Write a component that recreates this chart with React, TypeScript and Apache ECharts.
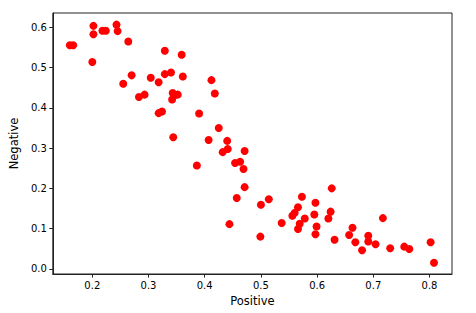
import React, { useEffect, useRef } from "react";
import * as echarts from "echarts";

const positive = [
  0.160, 0.166, 0.202, 0.202, 0.200, 0.218, 0.224, 0.243, 0.245, 0.264,
  0.255, 0.270, 0.283, 0.293, 0.304, 0.318, 0.329, 0.329, 0.340, 0.359,
  0.361, 0.343, 0.347, 0.352, 0.342, 0.318, 0.324, 0.390, 0.412, 0.418,
  0.425, 0.344, 0.407, 0.440, 0.441, 0.432, 0.471, 0.386, 0.454, 0.463,
  0.469, 0.471, 0.457, 0.444, 0.500, 0.499, 0.514, 0.537, 0.556, 0.560,
  0.566, 0.573, 0.578, 0.569, 0.566, 0.597, 0.595, 0.599, 0.597, 0.626,
  0.624, 0.620, 0.631, 0.663, 0.657, 0.668, 0.680, 0.691, 0.691, 0.704,
  0.717, 0.730, 0.755, 0.764, 0.802, 0.808,
];
const negative = [
  0.556, 0.556, 0.604, 0.583, 0.514, 0.592, 0.592, 0.607, 0.591, 0.565,
  0.460, 0.481, 0.427, 0.433, 0.475, 0.464, 0.542, 0.484, 0.488, 0.532,
  0.478, 0.437, 0.432, 0.433, 0.421, 0.387, 0.391, 0.386, 0.469, 0.436,
  0.350, 0.327, 0.320, 0.318, 0.298, 0.290, 0.293, 0.257, 0.263, 0.266,
  0.248, 0.203, 0.176, 0.111, 0.159, 0.080, 0.173, 0.114, 0.132, 0.139,
  0.153, 0.179, 0.125, 0.112, 0.099, 0.164, 0.135, 0.105, 0.086, 0.200,
  0.142, 0.125, 0.072, 0.102, 0.084, 0.066, 0.046, 0.082, 0.068, 0.061,
  0.126, 0.051, 0.055, 0.049, 0.066, 0.015,
];
const xTicks = [0.2, 0.3, 0.4, 0.5, 0.6, 0.7, 0.8];
const yTicks = [0.0, 0.1, 0.2, 0.3, 0.4, 0.5, 0.6];

export default function App() {
  const ref = useRef<HTMLDivElement>(null);
  useEffect(() => {
    document.body.style.margin = "0";
    const chart = echarts.init(ref.current!, null, { renderer: "svg" });
    const font = "DejaVu Sans";
    const axisColor = "#222";
    chart.setOption({
      animation: false,
      backgroundColor: "#fff",
      grid: {
        left: 51,
        top: 13,
        width: 401,
        height: 261,
        show: true,
        borderColor: axisColor,
        borderWidth: 1,
        backgroundColor: "transparent",
      },
      xAxis: {
        type: "value",
        min: 0.1297,
        max: 0.84,
        name: "Positive",
        nameLocation: "middle",
        nameGap: 21,
        nameTextStyle: { fontFamily: font, fontSize: 11.5, color: "#000" },
        splitLine: { show: false },
        axisLine: { show: true, onZero: false, lineStyle: { color: axisColor, width: 1 } },
        axisTick: { show: true, length: 3.5, lineStyle: { color: axisColor }, customValues: xTicks },
        axisLabel: {
          fontFamily: font,
          fontSize: 10,
          color: "#000",
          margin: 6,
          customValues: xTicks,
          formatter: (v: number) => v.toFixed(1),
        },
      },
      yAxis: {
        type: "value",
        min: -0.013,
        max: 0.636,
        name: "Negative",
        nameLocation: "middle",
        nameGap: 32,
        nameTextStyle: { fontFamily: font, fontSize: 11.5, color: "#000" },
        splitLine: { show: false },
        axisLine: { show: true, onZero: false, lineStyle: { color: axisColor, width: 1 } },
        axisTick: { show: true, length: 3.5, lineStyle: { color: axisColor }, customValues: yTicks },
        axisLabel: {
          fontFamily: font,
          fontSize: 10,
          color: "#000",
          margin: 6,
          customValues: yTicks,
          formatter: (v: number) => v.toFixed(1),
        },
      },
      series: [
        {
          type: "scatter",
          data: positive.map((x, i) => [x, negative[i]]),
          symbolSize: 8,
          itemStyle: { color: "#ff0000", opacity: 1 },
        },
      ],
    });
    return () => chart.dispose();
  }, []);
  return <div ref={ref} style={{ width: 476, height: 313 }} />;
}
